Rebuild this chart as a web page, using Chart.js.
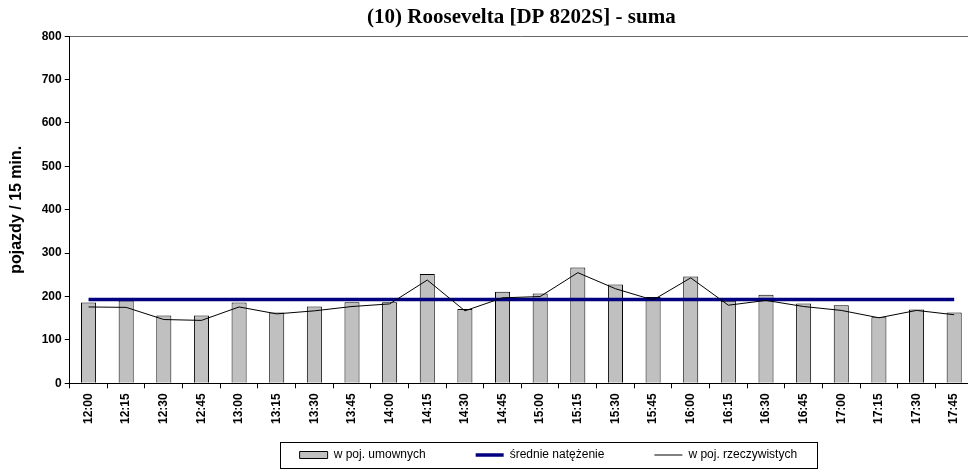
<!DOCTYPE html>
<html>
<head>
<meta charset="utf-8">
<script src="https://cdn.jsdelivr.net/npm/chart.js@4"></script>
<style>
  html, body { margin: 0; padding: 0; background: #fff; overflow: hidden; }
  canvas { display: block; }
</style>
</head>
<body>
<canvas id="graph" width="976" height="470"></canvas>
<script>
var ctx = document.getElementById('graph').getContext('2d');

const labels = ["12:00", "12:15", "12:30", "12:45", "13:00", "13:15", "13:30", "13:45",
    "14:00", "14:15", "14:30", "14:45", "15:00", "15:15", "15:30", "15:45",
    "16:00", "16:15", "16:30", "16:45", "17:00", "17:15", "17:30", "17:45"];
// w poj. umownych (bars)
const umowne = [186, 191, 156, 156, 186, 163, 177, 187, 187, 252, 171, 211,
    207, 267, 228, 199, 246, 190, 204, 184, 180, 152, 170, 163];
// w poj. rzeczywistych (thin line)
const rzeczywiste = [176, 175, 147, 145, 176, 160, 167, 177, 183, 238, 167, 197,
    200, 255, 218, 192, 243, 180, 191, 177, 168, 151, 168, 158];
// srednie natezenie
const srednie = [193, 193, 193, 193, 193, 193, 193, 193, 193, 193, 193, 193,
    193, 193, 193, 193, 193, 193, 193, 193, 193, 193, 193, 193];
const yTicks = [0, 100, 200, 300, 400, 500, 600, 700, 800];

Chart.defaults.font.family = '"Liberation Sans", Arial, sans-serif';
Chart.defaults.color = '#000';

// legend: wide gaps between items, row kept near the bottom, framed
const legendBox = {
    id: 'legendBox',
    afterLayout(chart) {
        const lg = chart.legend;
        const pad = lg.options.labels.padding;
        lg.top = lg.bottom - 21 - pad;
        lg.left += 27;
        lg.right += 27;
    },
    afterDraw(chart) {
        const lg = chart.legend;
        const pad = lg.options.labels.padding;
        const lw = lg.lineWidths[0];
        const x0 = (lg.left + pad + lg.right - lw) / 2;
        const x1 = x0 + lw - pad;
        const c = chart.ctx;
        c.save();
        c.strokeStyle = '#000';
        c.lineWidth = 1;
        c.strokeRect(Math.round(x0 - 20) + 0.5, Math.round(lg.top + pad - 7) + 0.5, Math.round(x1 - x0 + 40), 26);
        c.restore();
    }
};

const data = {
    labels: labels,
    datasets: [{
        type: 'bar',
        label: 'w poj. umownych',
        data: umowne,
        backgroundColor: '#C0C0C0',
        borderColor: '#000',
        borderWidth: 1,
        barPercentage: 0.4,
        categoryPercentage: 1,
        pointStyle: 'rect',
        order: 3
    }, {
        type: 'line',
        label: 'średnie natężenie',
        data: srednie,
        borderColor: '#000080',
        backgroundColor: '#000080',
        borderWidth: 3.5,
        pointRadius: 0,
        pointStyle: 'line',
        tension: 0,
        order: 2
    }, {
        type: 'line',
        label: 'w poj. rzeczywistych',
        data: rzeczywiste,
        borderColor: '#000',
        backgroundColor: '#000',
        borderWidth: 1,
        pointRadius: 0,
        pointStyle: 'line',
        tension: 0,
        order: 1
    }]
};

var myGraph = new Chart(ctx, {
    type: 'bar',
    data,
    plugins: [legendBox],
    options: {
        responsive: false,
        animation: false,
        layout: {
            padding: { left: 7, right: 3, top: 0, bottom: 0 }
        },
        plugins: {
            title: {
                display: true,
                text: '(10) Roosevelta [DP 8202S] - suma',
                fullSize: false,
                color: '#000',
                font: { family: '"Liberation Serif", "Times New Roman", serif', size: 21, weight: 'bold' },
                padding: { top: 5, bottom: 6 }
            },
            legend: {
                position: 'bottom',
                fullSize: false,
                maxHeight: 41,
                labels: {
                    usePointStyle: true,
                    pointStyleWidth: 28,
                    boxHeight: 7,
                    padding: 50,
                    color: '#000',
                    font: { size: 12 },
                    sort: (a, b) => a.datasetIndex - b.datasetIndex
                }
            },
            tooltip: { enabled: false }
        },
        scales: {
            x: {
                offset: true,
                grid: {
                    offset: true,
                    drawOnChartArea: false,
                    color: '#000',
                    tickLength: 5
                },
                border: { color: '#000', width: 1 },
                ticks: {
                    autoSkip: false,
                    maxRotation: 90,
                    minRotation: 90,
                    padding: 5,
                    font: { size: 12, weight: 'bold' }
                }
            },
            y: {
                min: 0,
                max: 800,
                afterBuildTicks: (axis) => { axis.ticks = yTicks.map(v => ({ value: v })); },
                grid: {
                    drawOnChartArea: true,
                    color: (c) => (c.tick && c.tick.value === 800) ? '#666' : 'rgba(0,0,0,0)',
                    tickColor: '#000',
                    tickLength: 5
                },
                border: { color: '#000', width: 1 },
                ticks: {
                    padding: 3,
                    font: { size: 12, weight: 'bold' }
                },
                title: {
                    display: true,
                    text: 'pojazdy / 15 min.',
                    color: '#000',
                    font: { size: 16, weight: 'bold' },
                    padding: { top: 0, bottom: 12.5 }
                }
            }
        }
    }
});
</script>
</body>
</html>
